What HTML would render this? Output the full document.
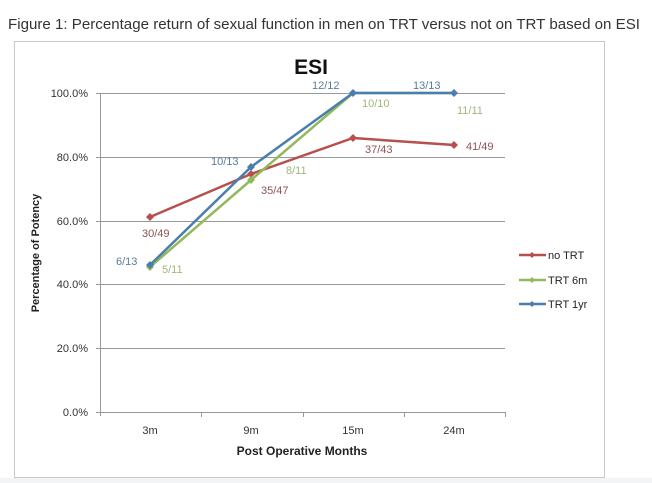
<!DOCTYPE html>
<html><head><style>body{margin:0;background:#fff}svg{display:block}</style></head><body>
<svg width="652" height="483" xmlns="http://www.w3.org/2000/svg" font-family="Liberation Sans, sans-serif">
<rect width="652" height="483" fill="#fff"/>
<rect x="0" y="478" width="652" height="5" fill="#f3f4f6"/>
<text x="8" y="29" font-size="15" fill="#333" textLength="632" lengthAdjust="spacingAndGlyphs">Figure 1: Percentage return of sexual function in men on TRT versus not on TRT based on ESI</text>
<rect x="14.5" y="41.5" width="590" height="436" fill="#fff" stroke="#c8c8c8"/>
<text x="311" y="74" font-size="21" font-weight="bold" text-anchor="middle" fill="#111">ESI</text>
<g stroke="#999" stroke-width="1">
<line x1="100" y1="93.5" x2="505" y2="93.5"/><line x1="100" y1="157.5" x2="505" y2="157.5"/>
<line x1="100" y1="221.5" x2="505" y2="221.5"/><line x1="100" y1="284.5" x2="505" y2="284.5"/>
<line x1="100" y1="348.5" x2="505" y2="348.5"/><line x1="96" y1="412.5" x2="505" y2="412.5"/>
<line x1="100.5" y1="93" x2="100.5" y2="416"/>
<line x1="96" y1="93.5" x2="100" y2="93.5"/><line x1="96" y1="157.5" x2="100" y2="157.5"/><line x1="96" y1="221.5" x2="100" y2="221.5"/><line x1="96" y1="284.5" x2="100" y2="284.5"/><line x1="96" y1="348.5" x2="100" y2="348.5"/>
<line x1="201.5" y1="412" x2="201.5" y2="417"/><line x1="303.5" y1="412" x2="303.5" y2="417"/><line x1="404.5" y1="412" x2="404.5" y2="417"/><line x1="505.5" y1="412" x2="505.5" y2="417"/>
</g>
<g font-size="11" fill="#333" text-anchor="end">
<text x="88" y="97">100.0%</text><text x="88" y="161">80.0%</text><text x="88" y="225">60.0%</text><text x="88" y="288">40.0%</text><text x="88" y="352">20.0%</text><text x="88" y="416">0.0%</text>
</g>
<g font-size="11" fill="#333" text-anchor="middle">
<text x="150" y="434">3m</text><text x="251" y="434">9m</text><text x="353" y="434">15m</text><text x="454" y="434">24m</text>
</g>
<text x="302" y="455" font-size="12" font-weight="bold" text-anchor="middle" fill="#222">Post Operative Months</text>
<text transform="translate(39,253) rotate(-90)" font-size="11" font-weight="bold" text-anchor="middle" fill="#222">Percentage of Potency</text>
<polyline points="150,217 251,174 353,138 454,145" fill="none" stroke="#b5504e" stroke-width="2.5"/>
<polyline points="150,267 251,180 353,93 454,93" fill="none" stroke="#93b95a" stroke-width="2.5"/>
<polyline points="150,265 251,167 353,93 454,93" fill="none" stroke="#4a7eae" stroke-width="2.5"/>
<g fill="#b5504e"><path d="M150 213l4 4-4 4-4-4z"/><path d="M251 170l4 4-4 4-4-4z"/><path d="M353 134l4 4-4 4-4-4z"/><path d="M454 141l4 4-4 4-4-4z"/></g>
<g fill="#93b95a"><path d="M150 263l4 4-4 4-4-4z"/><path d="M251 176l4 4-4 4-4-4z"/></g>
<g fill="#4a7eae"><path d="M150 261l4 4-4 4-4-4z"/><path d="M251 163l4 4-4 4-4-4z"/><path d="M353 89l4 4-4 4-4-4z"/><path d="M454 89l4 4-4 4-4-4z"/></g>
<g font-size="11">
<text x="142" y="237" fill="#8a5553">30/49</text>
<text x="261" y="194" fill="#8a5553">35/47</text>
<text x="365" y="153" fill="#8a5553">37/43</text>
<text x="466" y="150" fill="#8a5553">41/49</text>
<text x="162" y="273" fill="#9fb77a">5/11</text>
<text x="286" y="174" fill="#9fb77a">8/11</text>
<text x="362" y="107" fill="#9fb77a">10/10</text>
<text x="457" y="114" fill="#9fb77a">11/11</text>
<text x="116" y="265" fill="#5a7c9a">6/13</text>
<text x="211" y="165" fill="#5a7c9a">10/13</text>
<text x="312" y="89" fill="#5a7c9a">12/12</text>
<text x="413" y="89" fill="#5a7c9a">13/13</text>
</g>
<g stroke-width="2.5">
<line x1="519" y1="255" x2="546" y2="255" stroke="#b5504e"/><line x1="519" y1="280" x2="546" y2="280" stroke="#93b95a"/><line x1="519" y1="304" x2="546" y2="304" stroke="#4a7eae"/>
</g>
<path d="M532 252l3 3-3 3-3-3z" fill="#b5504e"/><path d="M532 277l3 3-3 3-3-3z" fill="#93b95a"/><path d="M532 301l3 3-3 3-3-3z" fill="#4a7eae"/>
<g font-size="11" fill="#222">
<text x="548" y="259">no TRT</text><text x="548" y="284">TRT 6m</text><text x="548" y="308">TRT 1yr</text>
</g>
</svg>
</body></html>
